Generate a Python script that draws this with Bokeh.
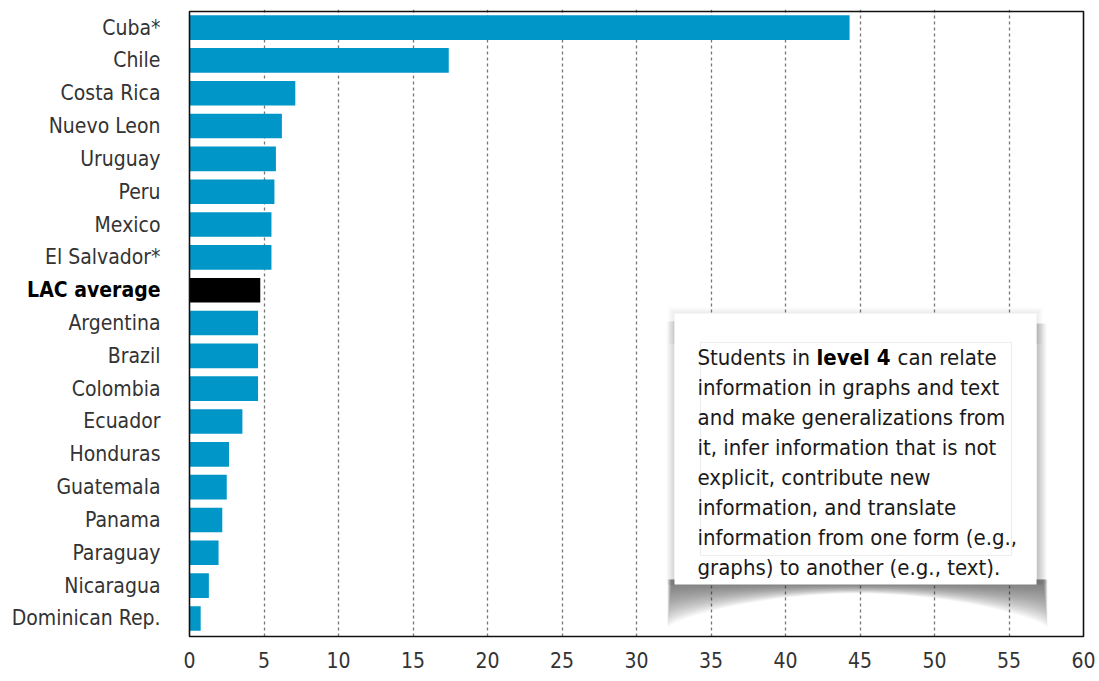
import numpy as np
from bokeh.plotting import figure
from bokeh.models import Range1d, FixedTicker, ColumnDataSource
from bokeh.core.properties import value
from bokeh.embed import file_html
from bokeh.resources import INLINE

# ---- data ----
countries = ["Cuba*", "Chile", "Costa Rica", "Nuevo Leon", "Uruguay", "Peru", "Mexico",
             "El Salvador*", "LAC average", "Argentina", "Brazil", "Colombia", "Ecuador",
             "Honduras", "Guatemala", "Panama", "Paraguay", "Nicaragua", "Dominican Rep."]
shares = [44.3, 17.4, 7.1, 6.2, 5.8, 5.7, 5.5, 5.5, 4.75, 4.6, 4.6, 4.6, 3.55,
          2.65, 2.5, 2.2, 1.95, 1.3, 0.75]
highlight = "LAC average"
x_ticks = list(range(0, 61, 5))
note_first = ["Students in ", "level 4", "can relate"]
note_lines = ["information in graphs and text",
              "and make generalizations from",
              "it, infer information that is not",
              "explicit, contribute new",
              "information, and translate",
              "information from one form (e.g.,",
              "graphs) to another (e.g., text)."]

FONT = "'DejaVu Sans Condensed', 'DejaVu Sans', sans-serif"
BAR = "#0096c8"

# page geometry (Bokeh page has no body margin): frame of the bars 189..1083 x, 11..636 y
PXU = (1083 - 189) / 60.0
PYU = (636 - 11) / 19.04
def dx(px):
    return (px - 189) / PXU
def dy(py):
    return (py - 11) / PYU - 0.49

W, H = 1096, 678
p = figure(width=W, height=H, output_backend="svg", toolbar_location=None, title=None,
           y_axis_location=None,
           x_range=Range1d(dx(0), dx(1085)), y_range=Range1d(dy(638), dy(9)),
           min_border_left=0, min_border_right=W - 1085, min_border_top=9,
           min_border_bottom=H - 638)

ys = list(range(len(countries)))
colors = ["#000000" if c == highlight else BAR for c in countries]
styles = ["bold" if c == highlight else "normal" for c in countries]
lcolors = ["#000000" if c == highlight else "#333333" for c in countries]
src = ColumnDataSource(dict(y=ys, v=shares, c=colors, name=countries, st=styles, lc=lcolors,
                            lx=[-29 / PXU] * len(countries)))
p.hbar(y="y", left=0, right="v", height=0.75, fill_color="c", line_color=None, source=src)

# category labels
p.text(x="lx", y="y", text="name", text_align="right", text_baseline="middle",
       text_font=value(FONT), text_font_size="21px", text_font_style="st",
       text_color="lc", source=src)

# x axis
p.xaxis.ticker = FixedTicker(ticks=x_ticks)
p.xaxis.axis_line_color = None
p.xaxis.major_tick_line_color = None
p.xaxis.minor_tick_line_color = None
p.xaxis.major_tick_out = 0
p.xaxis.major_tick_in = 0
p.xaxis.major_label_text_font = FONT
p.xaxis.major_label_text_color = "#333333"
p.xaxis.major_label_text_font_size = "21px"
p.xaxis.major_label_standoff = 13

p.xgrid.ticker = FixedTicker(ticks=x_ticks[1:-1])
p.xgrid.grid_line_color = "#777777"
p.xgrid.grid_line_dash = "3 3"
p.xgrid.grid_line_width = 1.3
p.ygrid.grid_line_color = None
p.outline_line_color = None

# plot box
p.quad(left=0, right=60, top=dy(11), bottom=dy(636), fill_color=None,
       line_color="#111111", line_width=1.6)

# ---- note box with curled shadow ----
bl, br, bt, bb = 674, 1036, 313, 584
n = 24
for k in range(n):
    s = (k + 1) / n
    x0, x1 = bl - 7 + 4 * (1 - s), br + 11 - 4 * (1 - s)
    xs = np.linspace(x0, x1, 80)
    t = (xs - x0) / (x1 - x0)
    depth = (43 - 34 * np.sin(np.pi * t) ** 0.7) * s
    px_x = np.concatenate([[x0], xs, [x1]])
    px_y = np.concatenate([[bb - 5], bb + depth, [bb - 5]])
    p.patch([dx(v) for v in px_x], [dy(v) for v in px_y], fill_color="#3c3c3c",
            fill_alpha=0.035, line_color=None)
for e in range(1, 7):
    p.quad(left=dx(bl - e), right=dx(br + e), top=dy(bt - e), bottom=dy(bt + 30),
           fill_color="#777777", fill_alpha=0.025, line_color=None)
for e in range(1, 11):
    p.quad(left=dx(br), right=dx(br + e), top=dy(bt + 10), bottom=dy(bb),
           fill_color="#555555", fill_alpha=0.045, line_color=None)
for e in range(1, 9):
    p.quad(left=dx(bl - e), right=dx(bl), top=dy(bt + 8), bottom=dy(bb),
           fill_color="#555555", fill_alpha=0.03, line_color=None)
p.quad(left=dx(bl), right=dx(br), top=dy(bt), bottom=dy(bb), fill_color="white", line_color=None)
p.quad(left=dx(700), right=dx(1011), top=dy(342), bottom=dy(555), fill_color=None,
       line_color="#ececec", line_width=1)

TX = 697
NFS = "22px"
base0 = 357
p.text(x=[dx(TX)], y=[dy(base0)], text=[note_first[0]], text_font=value(FONT),
       text_font_size=NFS, text_color="#1a1a1a", text_baseline="alphabetic")
p.text(x=[dx(816)], y=[dy(base0)], text=[note_first[1]], text_font=value(FONT),
       text_font_size=NFS, text_font_style="bold", text_color="#000000", text_baseline="alphabetic")
p.text(x=[dx(897)], y=[dy(base0)], text=[note_first[2]], text_font=value(FONT),
       text_font_size=NFS, text_color="#1a1a1a", text_baseline="alphabetic")
for i, line in enumerate(note_lines):
    p.text(x=[dx(TX)], y=[dy(base0 + 30 * (i + 1))], text=[line], text_font=value(FONT),
           text_font_size=NFS, text_color="#1a1a1a", text_baseline="alphabetic")

open("out.html", "w").write(file_html(p, INLINE))
